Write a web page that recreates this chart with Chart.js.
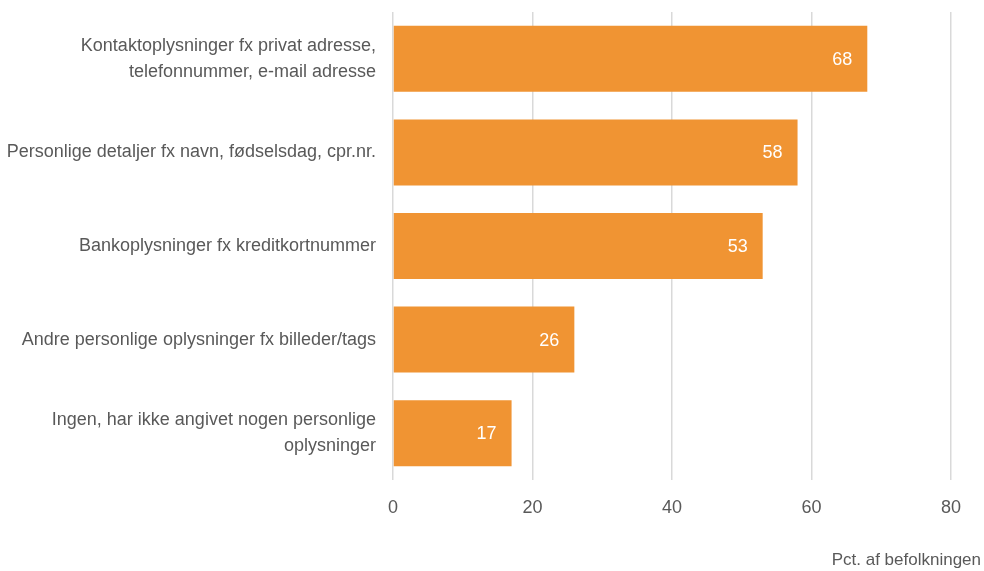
<!DOCTYPE html>
<html>
<head>
<meta charset="utf-8">
<script src="https://cdn.jsdelivr.net/npm/chart.js@4/dist/chart.umd.min.js"></script>
<style>
  html, body { margin: 0; padding: 0; background: #fff; }
  #wrap { width: 984px; height: 571px; }
</style>
</head>
<body>
<div id="wrap"><canvas id="barChart" width="984" height="571"></canvas></div>
<script>
const categories = [
  ['Kontaktoplysninger fx privat adresse,', 'telefonnummer, e-mail adresse'],
  'Personlige detaljer fx navn, fødselsdag, cpr.nr.',
  'Bankoplysninger fx kreditkortnummer',
  'Andre personlige oplysninger fx billeder/tags',
  ['Ingen, har ikke angivet nogen personlige', 'oplysninger'],
];
const values = [68, 58, 53, 26, 17];
const xTicks = [0, 20, 40, 60, 80];
const axisTitle = 'Pct. af befolkningen';

const FONT = '"Liberation Sans", Arial, sans-serif';
const TEXT = '#595959';

// values written inside the bar ends + axis title in the bottom right corner
const valueLabels = {
  id: 'valueLabels',
  afterDatasetsDraw(chart) {
    const { ctx } = chart;
    const meta = chart.getDatasetMeta(0);
    ctx.save();
    ctx.font = '18px ' + FONT;
    ctx.fillStyle = '#ffffff';
    ctx.textAlign = 'center';
    ctx.textBaseline = 'middle';
    meta.data.forEach((bar, i) => {
      ctx.fillText(String(values[i]), bar.x - 25, bar.y + 1);
    });
    ctx.restore();
  },
  afterDraw(chart) {
    const { ctx } = chart;
    ctx.save();
    ctx.font = '17px ' + FONT;
    ctx.fillStyle = TEXT;
    ctx.textAlign = 'right';
    ctx.textBaseline = 'middle';
    ctx.fillText(axisTitle, chart.width - 3, 560);
    ctx.restore();
  },
};

const ctx = document.getElementById('barChart');

new Chart(ctx, {
  type: 'bar',
  data: {
    labels: categories,
    datasets: [
      {
        data: values,
        backgroundColor: '#F09433',
        borderWidth: 0,
        barPercentage: 0.705,
        categoryPercentage: 1,
      },
    ],
  },
  options: {
    indexAxis: 'y',
    responsive: false,
    animation: false,
    layout: {
      autoPadding: false,
      padding: { top: 12, right: 33, left: 0, bottom: 0 },
    },
    plugins: {
      legend: { display: false },
      tooltip: { enabled: false },
    },
    scales: {
      x: {
        min: 0,
        max: 80,
        afterBuildTicks(scale) {
          scale.ticks = xTicks.map(v => ({ value: v }));
        },
        afterFit(scale) {
          scale.height = 91;
          scale.paddingLeft = 0;
          scale.paddingRight = 0;
        },
        grid: {
          color: '#d9d9d9',
          lineWidth: 1.5,
          drawTicks: false,
        },
        border: { display: false },
        ticks: {
          color: TEXT,
          padding: 17,
          font: { family: FONT, size: 18 },
        },
      },
      y: {
        afterFit(scale) {
          scale.width = 393;
          scale.paddingTop = 0;
          scale.paddingBottom = 0;
        },
        grid: { display: false, drawTicks: false },
        border: { display: false },
        ticks: {
          color: TEXT,
          padding: 17,
          font: { family: FONT, size: 18, lineHeight: 1.45 },
        },
      },
    },
  },
  plugins: [valueLabels],
});
</script>
</body>
</html>
